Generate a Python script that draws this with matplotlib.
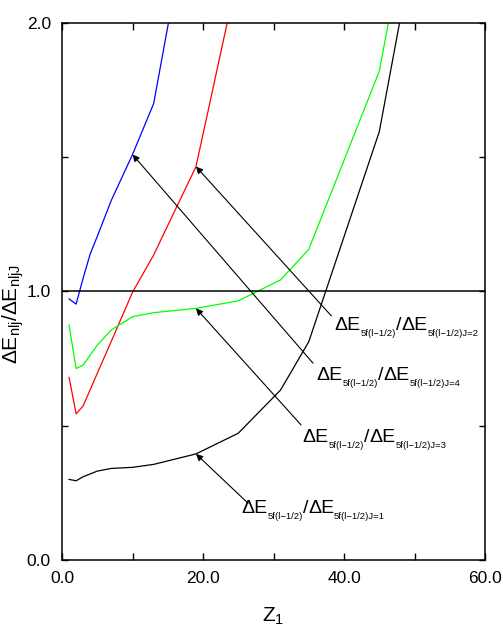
import matplotlib
matplotlib.use("Agg")
import matplotlib.pyplot as plt
from matplotlib.transforms import offset_copy
from matplotlib.ticker import FixedFormatter, FixedLocator

FONT = "Liberation Sans"
plt.rcParams["font.family"] = [FONT, "DejaVu Sans"]
plt.rcParams["mathtext.fontset"] = "custom"
plt.rcParams["mathtext.rm"] = FONT
plt.rcParams["mathtext.it"] = FONT
plt.rcParams["mathtext.default"] = "regular"

# ratios vs Z1
blue_z = [1, 2, 3, 4, 5, 7, 10, 13, 16]
blue_r = [0.972, 0.953, 1.05, 1.14, 1.205, 1.34, 1.51, 1.70, 2.13]

red_z = [1, 2, 3, 5, 7, 10, 13, 19, 25]
red_r = [0.680, 0.544, 0.574, 0.695, 0.815, 0.997, 1.136, 1.465, 2.19]

green_z = [1, 2, 3, 5, 7, 10, 13, 19, 25, 31, 35, 45, 48]
green_r = [0.875, 0.713, 0.726, 0.80, 0.857, 0.906, 0.921, 0.937, 0.965,
           1.043, 1.157, 1.82, 2.24]

black_z = [1, 2, 3, 5, 7, 10, 13, 19, 25, 31, 35, 45, 50]
black_r = [0.300, 0.295, 0.31, 0.331, 0.341, 0.345, 0.356, 0.395, 0.472,
           0.633, 0.813, 1.595, 2.30]

label_j = ["2", "4", "3", "1"]
label_pos = [(38.7, 0.857), (36.1, 0.670), (34.1, 0.439), (25.4, 0.175)]
arrow_tail = [(38.2, 0.909), (35.6, 0.733), (33.9, 0.503), (26.4, 0.211)]
arrow_head = [(red_z[7], red_r[7]), (blue_z[6], blue_r[6]),
              (green_z[7], green_r[7]), (black_z[7], black_r[7])]

fig = plt.figure(figsize=(5.03, 6.27), dpi=100)
ax = fig.add_axes([0.1233, 0.1069, 0.841, 0.8565])
renderer = fig.canvas.get_renderer()


def draw_label(x, y, pieces):
    # pieces: (text, fontsize, baseline shift in points), drawn side by side
    dx = 0.0
    for s, size, dy in pieces:
        tr = offset_copy(ax.transData, fig=fig, x=dx, y=dy, units="points")
        t = ax.text(x, y, s, fontsize=size, va="baseline", ha="left",
                    transform=tr)
        dx += t.get_window_extent(renderer).width * 72.0 / fig.dpi


ax.plot(blue_z, blue_r, color="#0000ff", lw=0.9)
ax.plot(red_z, red_r, color="#ff0000", lw=0.9)
ax.plot(green_z, green_r, color="#00ff00", lw=0.9)
ax.plot(black_z, black_r, color="black", lw=0.9)
ax.axhline(1.0, color="black", lw=1.1)

for j, pos, tail, head in zip(label_j, label_pos, arrow_tail, arrow_head):
    draw_label(pos[0], pos[1], [
        ("ΔE", 14, 0), ("5f(l\u22121/2)", 6.8, -4.5), ("/", 14, 0),
        ("ΔE", 14, 0), ("5f(l\u22121/2)J=" + j, 6.8, -4.5)])
    ax.annotate("", xy=head, xytext=tail,
                arrowprops=dict(arrowstyle="-|>", color="black", lw=0.8,
                                mutation_scale=10, shrinkA=0, shrinkB=0))

ax.set_xlim(0, 60)
ax.set_ylim(0, 2)
ax.xaxis.set_major_locator(FixedLocator([0, 20, 40, 60]))
ax.xaxis.set_major_formatter(FixedFormatter(["0.0", "20.0", "40.0", "60.0"]))
ax.xaxis.set_minor_locator(FixedLocator([10, 30, 50]))
ax.yaxis.set_major_locator(FixedLocator([0, 1, 2]))
ax.yaxis.set_major_formatter(FixedFormatter(["0.0", "1.0", "2.0"]))
ax.yaxis.set_minor_locator(FixedLocator([0.5, 1.5]))
ax.tick_params(which="both", direction="in", top=True, right=True,
               labelsize=12.5, width=1)
ax.tick_params(which="major", length=5, pad=8)
ax.tick_params(which="minor", length=5)
ax.tick_params(axis="y", which="both", length=4)
for s in ax.spines.values():
    s.set_linewidth(1.1)

ax.set_xlabel("Z$_1$", fontsize=15)
ax.xaxis.set_label_coords(0.5, -0.085)
ax.set_ylabel(r"ΔE$_{\mathrm{nlj}}$/ΔE$_{\mathrm{nljJ}}$", fontsize=15)
ax.yaxis.set_label_coords(-0.085, 0.458)

fig.savefig("out.png", dpi=100)
